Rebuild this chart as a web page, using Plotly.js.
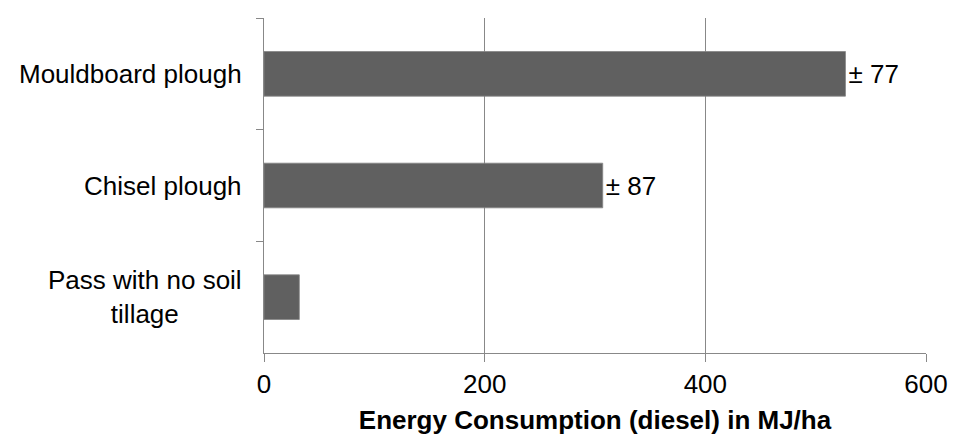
<!DOCTYPE html>
<html>
<head>
<meta charset="utf-8">
<script src="https://cdn.plot.ly/plotly-3.0.1.min.js"></script>
<style>
  html, body { margin: 0; padding: 0; background: #fff; }
  #chart { width: 954px; height: 435px; }
</style>
</head>
<body>
<div id="chart"></div>
<script>
// Categories from top to bottom
const categories = ['Mouldboard plough', 'Chisel plough', 'Pass with no soil<br>tillage'];
// Energy consumption (diesel) in MJ/ha
const energyValues = [527, 307, 32];
// Error labels shown next to bars
const errorLabels = ['± 77', '± 87', ''];
// X axis ticks
const xTickValues = [0, 200, 400, 600];

const FONT = '"Liberation Sans", Arial, Helvetica, sans-serif';
const FS = 26;

const trace = {
  type: 'bar',
  orientation: 'h',
  y: categories,
  x: energyValues,
  text: errorLabels,
  textposition: 'outside',
  constraintext: 'none',
  cliponaxis: false,
  textfont: { family: FONT, size: FS, color: '#000' },
  marker: { color: '#606060', line: { color: '#858585', width: 0.8 } },
  hoverinfo: 'skip'
};

const annotations = categories.map(c => ({
  xref: 'paper', yref: 'y',
  x: 0, y: c,
  xanchor: 'right', yanchor: 'middle',
  xshift: -20,
  align: 'center',
  showarrow: false,
  text: c,
  font: { family: FONT, size: FS, color: '#000' }
}));

const layout = {
  width: 954, height: 435,
  margin: { l: 263.5, r: 28, t: 18, b: 82 },
  paper_bgcolor: '#fff', plot_bgcolor: '#fff',
  showlegend: false,
  bargap: 0.6,
  font: { family: FONT, size: FS, color: '#000' },
  xaxis: {
    range: [0, 600],
    tickvals: xTickValues,
    ticktext: xTickValues.map(String),
    showgrid: true, gridcolor: '#888', gridwidth: 1,
    zeroline: false,
    showline: true, linecolor: '#888', linewidth: 1,
    ticks: 'outside', ticklen: 8, tickcolor: '#888', tickwidth: 1,
    tickfont: { family: FONT, size: FS, color: '#000' },
    title: { text: '<b>Energy Consumption (diesel) in MJ/ha</b>', font: { family: FONT, size: FS, color: '#000' }, standoff: 14 },
    fixedrange: true
  },
  yaxis: {
    type: 'category',
    categoryorder: 'array',
    categoryarray: categories,
    autorange: 'reversed',
    showticklabels: false,
    tickson: 'boundaries',
    ticks: 'outside', ticklen: 7, tickcolor: '#888', tickwidth: 1,
    showgrid: false, zeroline: false,
    showline: true, linecolor: '#888', linewidth: 1,
    fixedrange: true
  },
  annotations: annotations
};

Plotly.newPlot('chart', [trace], layout, { staticPlot: true, displayModeBar: false });
</script>
</body>
</html>
